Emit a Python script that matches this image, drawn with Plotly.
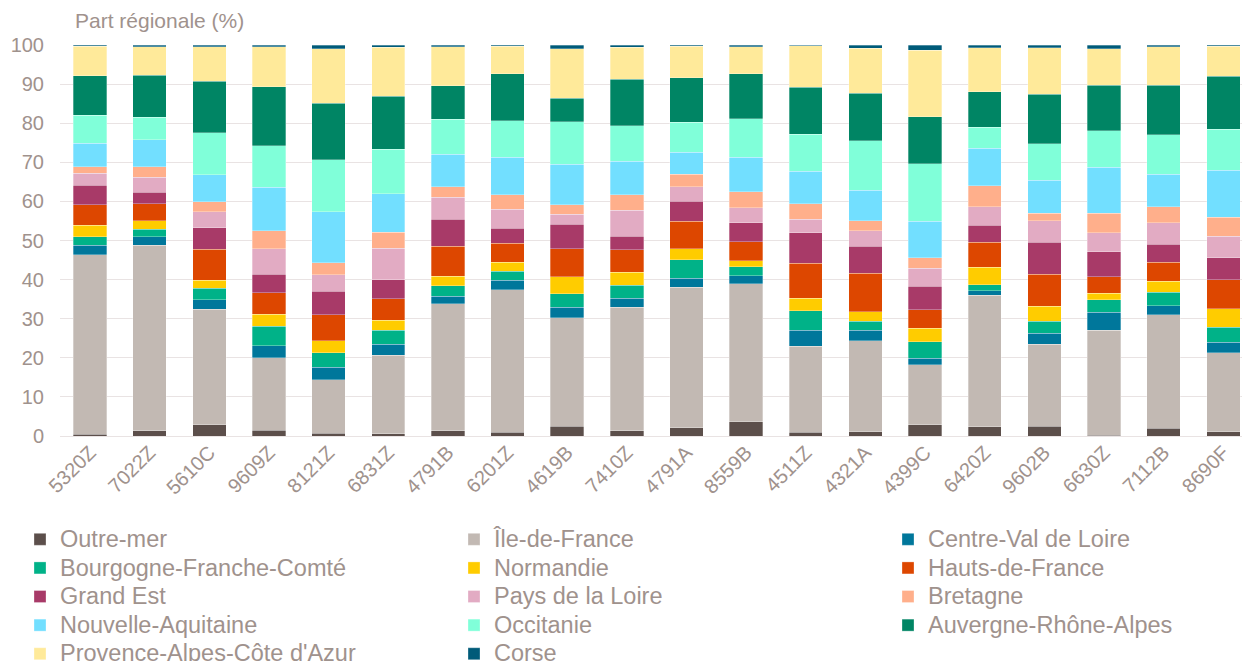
import plotly.graph_objects as go

categories = ["5320Z", "7022Z", "5610C", "9609Z", "8121Z", "6831Z", "4791B", "6201Z", "4619B", "7410Z",
              "4791A", "8559B", "4511Z", "4321A", "4399C", "6420Z", "9602B", "6630Z", "7112B", "8690F"]

outre_mer = [0.4, 1.3, 2.9, 1.5, 0.7, 0.6, 1.4, 0.9, 2.5, 1.3, 2.1, 3.6, 1.0, 1.1, 2.9, 2.4, 2.5, 0.2, 2.0, 1.1]
ile_de_france = [45.9, 47.5, 29.5, 18.5, 13.7, 20.1, 32.4, 36.5, 27.8, 31.6, 36.0, 35.3, 21.9, 23.2, 15.3, 33.6, 21.0, 26.9, 29.0, 20.2]
centre_val_de_loire = [2.5, 2.1, 2.5, 3.1, 3.2, 2.8, 2.0, 2.4, 2.6, 2.3, 2.3, 2.1, 4.1, 2.7, 1.7, 1.1, 2.8, 4.6, 2.3, 2.7]
bourgogne_fc = [2.2, 2.0, 2.9, 5.0, 3.7, 3.5, 2.6, 2.4, 3.5, 3.3, 4.7, 2.3, 5.0, 2.3, 4.2, 1.6, 3.1, 3.1, 3.5, 3.8]
normandie = [2.9, 2.2, 2.0, 3.1, 3.1, 2.6, 2.4, 2.3, 4.3, 3.4, 2.8, 1.5, 3.2, 2.5, 3.4, 4.4, 3.8, 1.7, 2.8, 4.8]
hauts_de_france = [5.2, 4.3, 8.0, 5.4, 6.6, 5.5, 7.7, 4.8, 7.2, 5.7, 7.0, 4.9, 9.0, 9.8, 4.8, 6.5, 8.2, 4.2, 4.9, 7.3]
grand_est = [5.0, 2.9, 5.5, 4.8, 6.0, 4.9, 7.0, 3.8, 6.2, 3.5, 5.1, 4.9, 7.8, 6.9, 6.0, 4.3, 8.2, 6.4, 4.6, 5.7]
pays_de_la_loire = [3.1, 3.9, 4.0, 6.5, 4.2, 8.0, 5.5, 4.9, 2.6, 6.7, 3.7, 3.8, 3.4, 4.0, 4.6, 4.7, 5.4, 4.9, 5.4, 5.5]
bretagne = [1.6, 2.6, 2.6, 4.6, 3.1, 4.1, 2.7, 3.7, 2.5, 3.9, 3.2, 4.1, 4.0, 2.5, 2.7, 5.4, 2.0, 5.0, 4.1, 4.8]
nouvelle_aquitaine = [6.1, 7.0, 6.9, 11.1, 13.0, 9.8, 8.3, 9.6, 10.3, 8.6, 5.7, 8.8, 8.3, 7.8, 9.3, 9.6, 8.4, 11.7, 8.4, 12.1]
occitanie = [7.1, 5.7, 10.8, 10.6, 13.3, 11.5, 9.0, 9.3, 10.9, 9.1, 7.7, 9.9, 9.5, 12.7, 14.7, 5.4, 9.3, 9.4, 10.0, 10.5]
auvergne_ra = [10.2, 10.8, 13.1, 15.1, 14.5, 13.5, 8.6, 12.1, 6.0, 11.9, 11.3, 11.5, 12.0, 12.2, 12.1, 9.1, 12.7, 11.6, 12.7, 13.5]
paca = [7.5, 7.3, 8.9, 10.2, 13.9, 12.5, 9.9, 7.0, 12.6, 8.1, 8.1, 6.8, 10.6, 11.5, 16.9, 11.2, 11.9, 9.3, 9.8, 7.7]
corse = [0.3, 0.4, 0.4, 0.5, 1.0, 0.6, 0.5, 0.3, 1.0, 0.6, 0.3, 0.5, 0.2, 0.8, 1.4, 0.7, 0.7, 1.0, 0.5, 0.3]

# (name, values, colour, legend column)
series = [
    ("Outre-mer", outre_mer, "#5c4f4b", "legend"),
    ("Île-de-France", ile_de_france, "#c2b9b3", "legend2"),
    ("Centre-Val de Loire", centre_val_de_loire, "#00779b", "legend3"),
    ("Bourgogne-Franche-Comté", bourgogne_fc, "#00b288", "legend"),
    ("Normandie", normandie, "#ffcc00", "legend2"),
    ("Hauts-de-France", hauts_de_france, "#dd4700", "legend3"),
    ("Grand Est", grand_est, "#a83a68", "legend"),
    ("Pays de la Loire", pays_de_la_loire, "#e2abc3", "legend2"),
    ("Bretagne", bretagne, "#ffaf8b", "legend3"),
    ("Nouvelle-Aquitaine", nouvelle_aquitaine, "#72dfff", "legend"),
    ("Occitanie", occitanie, "#80ffd9", "legend2"),
    ("Auvergne-Rhône-Alpes", auvergne_ra, "#008564", "legend3"),
    ("Provence-Alpes-Côte d'Azur", paca, "#ffea9a", "legend"),
    ("Corse", corse, "#005b79", "legend2"),
]

text_color = "#9f928d"
font_family = "Liberation Sans, Arial, sans-serif"
W, H = 1242, 653

fig = go.Figure()
for name, vals, col, leg in series:
    fig.add_trace(go.Bar(
        x=categories, y=vals, legend=leg,
        name=f"<span style='font-size:23.5px'>{name}</span>",
        hovertemplate=f"{name}<br>%{{x}}: %{{y}}<extra></extra>",
        marker=dict(color=col, line=dict(color="rgba(255,255,255,0.6)", width=0.5)),
    ))

def legend_at(xpx):
    return dict(orientation="v", xref="container", yref="container",
                x=xpx / W, y=1 - 512 / H, xanchor="left", yanchor="top",
                traceorder="normal", maxheight=400,
                font=dict(size=19.7, color=text_color, family=font_family),
                itemwidth=30, bgcolor="rgba(0,0,0,0)")

fig.update_layout(
    barmode="stack",
    bargap=0.44,
    width=W, height=H,
    paper_bgcolor="white", plot_bgcolor="white",
    margin=dict(l=52, r=0, t=37, b=225, autoexpand=False),
    font=dict(family=font_family, color=text_color, size=20),
    title=dict(text="Part régionale (%)", x=67 / W, xanchor="left",
               y=1 - 13 / H, yanchor="middle",
               font=dict(size=21, color=text_color, family=font_family)),
    xaxis=dict(type="category", range=[-0.503, 19.447], tickangle=-45,
               showgrid=False, showline=False, ticks="", automargin=False,
               tickfont=dict(size=20, color=text_color)),
    yaxis=dict(range=[0, 100], dtick=10, showgrid=True, gridcolor="#e9e3e3", gridwidth=1.3,
               zeroline=True, zerolinecolor="#e9e3e3", zerolinewidth=1.3,
               ticks="", ticklabelstandoff=15, automargin=False,
               tickfont=dict(size=20, color=text_color)),
    legend=legend_at(12),
    legend2=legend_at(446),
    legend3=legend_at(880),
)

fig.write_html("out.html")
